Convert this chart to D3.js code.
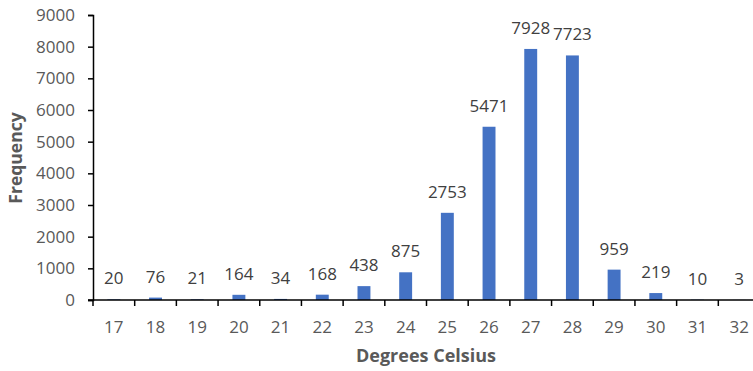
<!DOCTYPE html>
<html><head><meta charset="utf-8">
<script src="https://cdn.jsdelivr.net/npm/d3@7"></script>
<style>body{margin:0;background:#fff;}svg{display:block;}</style>
</head><body>
<svg id="c" width="753" height="371"></svg>
<script>
const categories = ["17","18","19","20","21","22","23","24","25","26","27","28","29","30","31","32"];
const values = [20,76,21,164,34,168,438,875,2753,5471,7928,7723,959,219,10,3];
const yTicks = [0,1000,2000,3000,4000,5000,6000,7000,8000,9000];

const svg = d3.select("#c");
const mLeft = 93, mRight = 760, mTop = 15, mBottom = 300;
const font = "'Open Sans', sans-serif";
const x = d3.scaleBand().domain(categories).range([mLeft, mRight]).paddingInner(0.69).paddingOuter(0.345);
const y = d3.scaleLinear().domain([0, 9000]).range([mBottom, mTop]);

// bars
svg.append("g").selectAll("rect").data(values).join("rect")
  .attr("x", (d,i) => x(categories[i]))
  .attr("y", d => y(d))
  .attr("width", x.bandwidth())
  .attr("height", d => y(0) - y(d))
  .attr("fill", "#4472C4");

// y axis
const ya = svg.append("g").attr("transform", `translate(${mLeft},0)`)
  .call(d3.axisLeft(y).tickValues(yTicks).tickSize(5).tickPadding(13).tickFormat(d3.format("d")));
ya.select(".domain").attr("stroke", "#000").attr("stroke-width", 1.5);
ya.selectAll(".tick line").attr("stroke", "#000").attr("stroke-width", 1.5);
ya.selectAll("text").attr("font-family", font).attr("font-size", 17).attr("fill", "#595959");

// x axis (line + boundary ticks)
const step = x.step();
const bounds = d3.range(categories.length + 1).map(i => x(categories[0]) - (step - x.bandwidth())/2 + i*step);
const xa = svg.append("g").attr("transform", `translate(0,${mBottom})`);
xa.append("line").attr("x1", mLeft - 5).attr("x2", mRight).attr("y1", 0).attr("y2", 0)
  .attr("stroke", "#000").attr("stroke-width", 1.5);
xa.selectAll("line.t").data(bounds).join("line").attr("class","t")
  .attr("x1", d => d).attr("x2", d => d).attr("y1", 0).attr("y2", 6)
  .attr("stroke", "#000").attr("stroke-width", 1.5);
xa.selectAll("text").data(categories).join("text")
  .attr("x", d => x(d) + x.bandwidth()/2).attr("y", 33)
  .attr("text-anchor", "middle").attr("font-family", font).attr("font-size", 17).attr("fill", "#595959")
  .text(d => d);

// data labels
svg.append("g").selectAll("text").data(values).join("text")
  .attr("x", (d,i) => x(categories[i]) + x.bandwidth()/2)
  .attr("y", d => y(d) - 15)
  .attr("text-anchor", "middle").attr("font-family", font).attr("font-size", 17).attr("fill", "#404040")
  .text(d => d);

// titles
svg.append("text").attr("transform", "translate(22,158) rotate(-90)")
  .attr("text-anchor", "middle").attr("font-family", font).attr("font-weight", "bold")
  .attr("font-size", 17.5).attr("fill", "#595959").text("Frequency");
svg.append("text").attr("x", 426).attr("y", 362)
  .attr("text-anchor", "middle").attr("font-family", font).attr("font-weight", "bold")
  .attr("font-size", 18).attr("fill", "#595959").text("Degrees Celsius");
</script>
</body></html>
